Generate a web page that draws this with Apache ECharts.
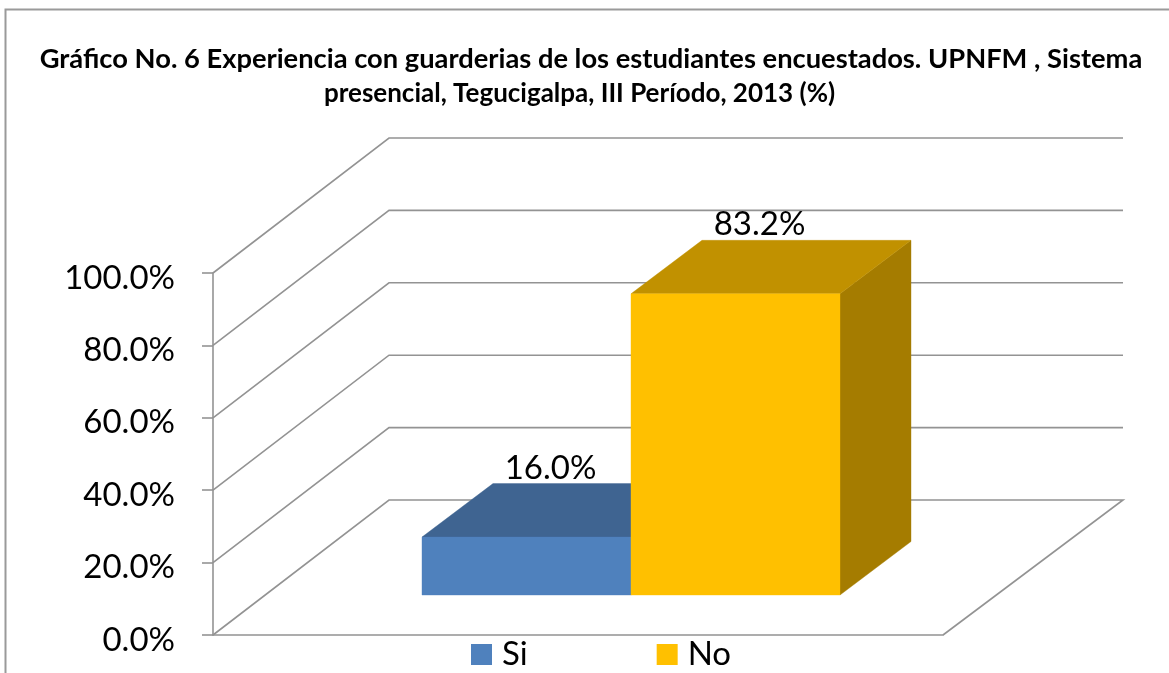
<!DOCTYPE html>
<html><head><meta charset="utf-8">
<style>html,body{margin:0;padding:0;background:#fff}#c{width:1169px;height:673px}</style>
<script src="https://cdn.jsdelivr.net/npm/echarts@6/dist/echarts.min.js"></script>
</head><body><div id="c"></div>
<script>
var titleLine1 = 'Gráfico No. 6 Experiencia con guarderias de los estudiantes encuestados. UPNFM , Sistema';
var titleLine2 = 'presencial, Tegucigalpa, III Período, 2013 (%)';
var categories = ['Experiencia'];
var siValues = [16.0];
var noValues = [83.2];
var yTicks = [0, 20, 40, 60, 80, 100];

var FONT = 'Lato';
var GRAY = '#939393';
var WALL_DX = 176, WALL_DY = 135, WALL_RIGHT_DX = 180;
var BAR_SHIFT_X = 53, BAR_SHIFT_Y = 40, BAR_FRAC = 209 / 730, BAR_DX = 71, BAR_DY = 53.5;

function pct(v) { return v.toFixed(1) + '%'; }

function renderWall(params, api) {
  var cs = params.coordSys;
  var y = api.coord([0, api.value(0)])[1];
  var x0 = cs.x, w = cs.width;
  var pts = [[x0, y], [x0 + WALL_DX, y - WALL_DY], [x0 + w + WALL_RIGHT_DX, y - WALL_DY]];
  if (api.value(0) === 0) pts.push([x0 + w, y]);
  return { type: 'polyline', shape: { points: pts },
    style: { fill: null, stroke: GRAY, lineWidth: 1.6 } };
}

function makeBarRender(slot, front, top, side) {
  return function (params, api) {
    var v = api.value(1);
    var c = api.coord([api.value(0), 0]);
    var t = api.coord([api.value(0), v]);
    var bw = api.size([1, 0])[0] * BAR_FRAC;
    var x1 = c[0] + BAR_SHIFT_X + (slot - 1) * bw, x2 = x1 + bw;
    var y1 = c[1] - BAR_SHIFT_Y, y2 = t[1] - BAR_SHIFT_Y;
    var d = BAR_DX, e = BAR_DY;
    function poly(points, fill) {
      return { type: 'polygon', shape: { points: points }, style: { fill: fill, stroke: fill, lineWidth: 0.4 } };
    }
    return { type: 'group', children: [
      poly([[x2, y1], [x2 + d, y1 - e], [x2 + d, y2 - e], [x2, y2]], side),
      poly([[x1, y2], [x2, y2], [x2 + d, y2 - e], [x1 + d, y2 - e]], top),
      poly([[x1, y1], [x2, y1], [x2, y2], [x1, y2]], front),
      { type: 'text', x: x1 + bw / 2 + 24, y: y2 - e + 1,
        style: { text: pct(v), fill: '#000', font: '33px ' + FONT, textAlign: 'center', textVerticalAlign: 'bottom' } }
    ] };
  };
}

var chart = echarts.init(document.getElementById('c'), null, { renderer: 'canvas' });
chart.setOption({
  animation: false,
  backgroundColor: '#fff',
  graphic: [{ type: 'rect', silent: true, z: -10,
    shape: { x: 5.5, y: 9.5, width: 1300, height: 800 },
    style: { fill: '#fff', stroke: '#9a9a9a', lineWidth: 2 } }],
  title: [
    { text: titleLine1, left: 591, top: 46, textAlign: 'center', padding: 0,
      textStyle: { fontFamily: FONT, fontWeight: 'bold', fontSize: 27.3, color: '#000' } },
    { text: titleLine2, left: 579.5, top: 81, textAlign: 'center', padding: 0,
      textStyle: { fontFamily: FONT, fontWeight: 'bold', fontSize: 26, color: '#000' } }
  ],
  legend: { left: 471, top: 638, padding: 0, itemWidth: 21, itemHeight: 21, itemGap: 129,
    data: [{ name: 'Si', icon: 'rect' }, { name: 'No', icon: 'rect' }],
    textStyle: { fontFamily: FONT, fontSize: 33, color: '#000', padding: [0, 0, 0, 5] } },
  grid: { left: 213, right: 226, top: 273, bottom: 38 },
  xAxis: { type: 'category', data: categories, axisTick: { show: false }, axisLabel: { show: false },
    axisLine: { lineStyle: { color: GRAY, width: 1.6 } }, splitLine: { show: false } },
  yAxis: { type: 'value', min: 0, max: 100, interval: 20, splitLine: { show: false },
    axisLine: { show: true, lineStyle: { color: GRAY, width: 1.6 } },
    axisTick: { show: true, length: 11, lineStyle: { color: GRAY, width: 1.6 } },
    axisLabel: { fontFamily: FONT, fontSize: 33, color: '#000', margin: 38, verticalAlign: 'top', lineHeight: 10, formatter: pct } },
  series: [
    { type: 'custom', name: 'wall', coordinateSystem: 'cartesian2d', silent: true, z: 1,
      data: yTicks.map(function (v) { return [v]; }), encode: { y: 0 }, renderItem: renderWall },
    { type: 'custom', name: 'Si', coordinateSystem: 'cartesian2d', z: 2, itemStyle: { color: '#4F81BD' },
      data: categories.map(function (c, i) { return [i, siValues[i]]; }), encode: { x: 0, y: 1 },
      renderItem: makeBarRender(0, '#4F81BD', '#3F6491', '#355578') },
    { type: 'custom', name: 'No', coordinateSystem: 'cartesian2d', z: 3, itemStyle: { color: '#FFC000' },
      data: categories.map(function (c, i) { return [i, noValues[i]]; }), encode: { x: 0, y: 1 },
      renderItem: makeBarRender(1, '#FFC000', '#C19100', '#A57C00') }
  ]
});
</script></body></html>
